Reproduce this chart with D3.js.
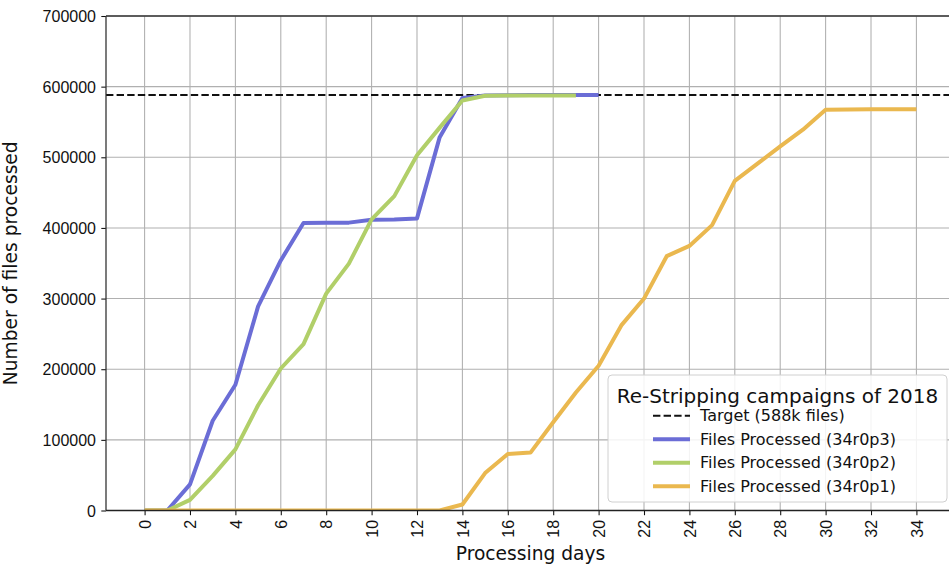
<!DOCTYPE html>
<html><head><meta charset="utf-8">
<script src="https://cdn.jsdelivr.net/npm/d3@7"></script>
<style>
html,body{margin:0;padding:0;background:#fff;}
svg{display:block;font-family:"DejaVu Sans",sans-serif;}
</style></head>
<body><svg id="c" width="949" height="564"></svg>
<script>
const days = d3.range(0, 35);
const xTicks = d3.range(0, 35, 2);
const yTicks = [0,100000,200000,300000,400000,500000,600000,700000];
const target = 588000;
const p3 = [0,0,37000,127000,178000,289000,354000,407000,407500,407500,411500,412000,413500,528500,584000,587500,587800,588000,588000,588000,588000];
const p2 = [0,0,15000,49000,86500,149000,201000,235500,307000,349500,412000,445000,503000,542000,580500,587000,587500,587500,587500,587500];
const p1 = [0,0,0,0,0,0,0,0,0,0,0,0,0,0,8500,53000,80000,82000,125000,167000,205000,262000,300000,360000,374500,404000,466500,491000,515500,539000,567300,567800,568000,568000,568000];
const seriesNames = ["Files Processed (34r0p3)","Files Processed (34r0p2)","Files Processed (34r0p1)"];
const seriesColors = ["#6b6dd6","#b1cf69","#eab84f"];
const seriesData = [p3, p2, p1];

const L=106, T=16, B=510.5, R=955;
const svg = d3.select("#c");
const x = d3.scaleLinear().domain([-1.7, 35.7]).range([L, R]);
const y = d3.scaleLinear().domain([0, 700000]).range([B, T]);

svg.append("defs").append("clipPath").attr("id","clip")
  .append("rect").attr("x",L).attr("y",T).attr("width",R-L).attr("height",B-T);

// grid
const g = svg.append("g");
g.selectAll(".vg").data(xTicks).join("line")
  .attr("x1",d=>x(d)).attr("x2",d=>x(d)).attr("y1",T).attr("y2",B)
  .attr("stroke","#b0b0b0").attr("stroke-width",1.07);
g.selectAll(".hg").data(yTicks).join("line")
  .attr("x1",L).attr("x2",R).attr("y1",d=>y(d)).attr("y2",d=>y(d))
  .attr("stroke","#b0b0b0").attr("stroke-width",1.07);

const plot = svg.append("g").attr("clip-path","url(#clip)");
plot.append("line").attr("x1",L).attr("x2",R).attr("y1",y(target)).attr("y2",y(target))
  .attr("stroke","#111").attr("stroke-width",2).attr("stroke-dasharray","7.4,3.2");

const line = d3.line().x((d,i)=>x(days[i])).y(d=>y(d));
seriesData.forEach((s,k)=>{
  plot.append("path").datum(s).attr("d",line).attr("fill","none")
    .attr("stroke",seriesColors[k]).attr("stroke-width",4).attr("stroke-linejoin","round");
});

// axes
const xa = svg.append("g").attr("transform",`translate(0,${B})`)
  .call(d3.axisBottom(x).tickValues(xTicks).tickSize(4.7).tickFormat(d3.format("d")));
xa.select(".domain").remove();
xa.selectAll("line").attr("stroke","#111").attr("stroke-width",1.07);
xa.selectAll("text").attr("font-size",16).attr("fill","#111")
  .attr("transform","rotate(-90)").attr("text-anchor","end")
  .attr("x",-9.4).attr("y",0).attr("dy","0.35em");

const ya = svg.append("g").attr("transform",`translate(${L},0)`)
  .call(d3.axisLeft(y).tickValues(yTicks).tickSize(4.7).tickFormat(d3.format("d")));
ya.select(".domain").remove();
ya.selectAll("line").attr("stroke","#111").attr("stroke-width",1.07);
ya.selectAll("text").attr("font-size",16).attr("fill","#111").attr("x",-10).attr("dy","0.35em");

// spines
svg.append("line").attr("x1",L).attr("x2",L).attr("y1",T).attr("y2",B).attr("stroke","#333").attr("stroke-width",1.3);
svg.append("line").attr("x1",L).attr("x2",R).attr("y1",T).attr("y2",T).attr("stroke","#333").attr("stroke-width",1.3);
svg.append("line").attr("x1",L).attr("x2",R).attr("y1",B).attr("y2",B).attr("stroke","#222").attr("stroke-width",1.3);

// labels
svg.append("text").attr("x",(L+R)/2).attr("y",559.5).attr("text-anchor","middle")
  .attr("font-size",18.67).attr("fill","#111").text("Processing days");
svg.append("text").attr("transform",`translate(17,${(T+B)/2}) rotate(-90)`).attr("text-anchor","middle")
  .attr("font-size",18.67).attr("fill","#111").text("Number of files processed");

// legend
const lg = svg.append("g");
lg.append("rect").attr("x",608).attr("y",375).attr("width",339).attr("height",127).attr("rx",4)
  .attr("fill","rgba(255,255,255,0.85)").attr("stroke","#d0d0d0").attr("stroke-width",1);
lg.append("text").attr("x",777.5).attr("y",396).attr("text-anchor","middle").attr("dy","0.35em")
  .attr("font-size",20).attr("fill","#111").text("Re-Stripping campaigns of 2018");
const rows = [415.7,439.3,462.7,486.3];
lg.append("line").attr("x1",653).attr("x2",690).attr("y1",rows[0]).attr("y2",rows[0])
  .attr("stroke","#111").attr("stroke-width",2).attr("stroke-dasharray","7.4,3.2");
lg.append("text").attr("x",700).attr("y",rows[0]).attr("dy","0.35em").attr("font-size",16).attr("fill","#111").text("Target (588k files)");
seriesNames.forEach((n,k)=>{
  lg.append("line").attr("x1",653).attr("x2",690).attr("y1",rows[k+1]).attr("y2",rows[k+1])
    .attr("stroke",seriesColors[k]).attr("stroke-width",4);
  lg.append("text").attr("x",700).attr("y",rows[k+1]).attr("dy","0.35em").attr("font-size",16).attr("fill","#111").text(n);
});
</script></body></html>
